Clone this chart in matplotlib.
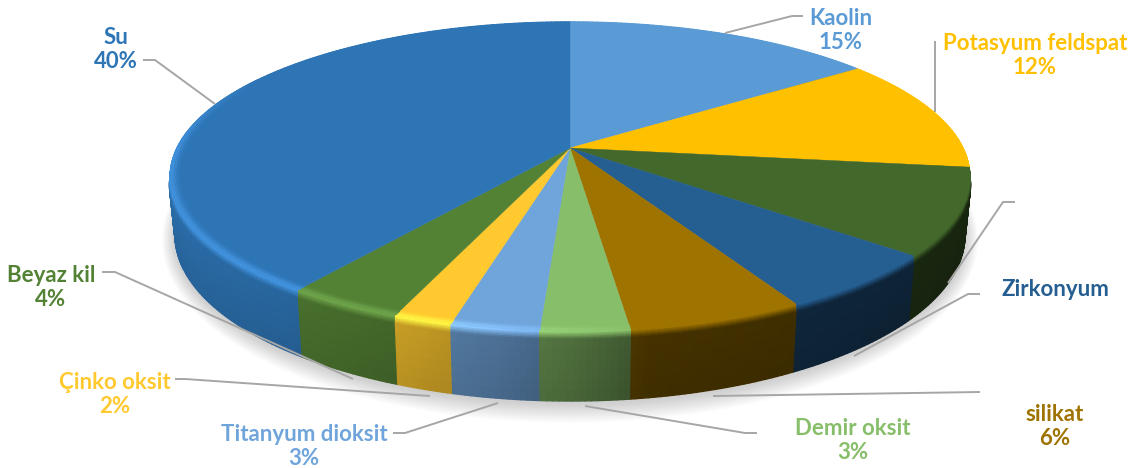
import numpy as np
import matplotlib
matplotlib.use("Agg")
import matplotlib.pyplot as plt
from matplotlib.collections import PolyCollection
from matplotlib.colors import to_rgb

# Slice shares, clockwise from twelve o'clock
names = ["Kaolin", "Potasyum feldspat", "", "Zirkonyum", "silikat",
         "Demir oksit", "Titanyum dioksit", "Çinko oksit", "Beyaz kil", "Su"]
shares = [15, 12, 9, 6, 6, 3, 3, 2, 4, 40]
colors = ["#5B9BD5", "#FFC000", "#43682B", "#255E91", "#9E7300",
          "#87BE69", "#70A5DB", "#FFC92F", "#548235", "#2E75B6"]

# Label text lines with their centres in pixels
labels = [
    ("Kaolin", "15%", 841, 18.5, 0),
    ("Potasyum feldspat", "12%", 1035, 43.5, 1),
    ("Zirkonyum", "", 1055, 289.5, 3),
    ("silikat", "6%", 1055, 414.5, 4),
    ("Demir oksit", "3%", 853, 428.5, 5),
    ("Titanyum dioksit", "3%", 304, 434.5, 6),
    ("Çinko oksit", "2%", 115, 382.5, 7),
    ("Beyaz kil", "4%", 51, 275.5, 8),
    ("Su", "40%", 116, 37.5, 9),
]

# Leader lines from the pie rim to each label
leaders = [
    [(725, 33), (792, 16), (803, 16)],
    [(935, 112), (935, 41)],
    [(948, 283), (1003, 202), (1015, 202)],
    [(854, 356), (968, 294), (980, 294)],
    [(713, 396), (980, 392)],
    [(585, 406), (745, 433), (757, 433)],
    [(498, 403), (405, 433), (393, 433)],
    [(430, 396), (185, 379), (175, 379)],
    [(353, 379), (115, 272), (102, 272)],
    [(215, 104), (155, 60), (143, 60)],
]

CX = 570.0
TILT = 0.182


def project(theta, radius, y0, a, b):
    """Perspective view of a disc; theta runs clockwise from the back."""
    u = radius * np.sin(theta)
    v = radius * np.cos(theta)
    w = 1 + TILT * v
    return CX + a * u / w, y0 - b * v / w


def top_face(theta, radius=1.0):
    return project(theta, radius, 148.0, 393.0, 149.0)


def rim_edge(theta):
    x, y = project(theta, 1.002, 148.0, 393.0, 149.0)
    return x, y + 9.0


def base_edge(theta):
    return project(theta, 1.0, 204.8, 388.4, 160.5)


def side_shade(x):
    return np.interp(x, [170, 300, 400, 500, 570, 650, 800, 970],
                     [0.92, 0.86, 0.78, 0.68, 0.58, 0.43, 0.40, 0.36])


def glow(x, theta):
    v = np.cos(theta)
    horizontal = np.interp(x, [170, 450, 570, 650], [1.0, 1.0, 0.35, 0.0])
    return horizontal * np.clip((0.5 - v) / 0.5, 0, 1)


fig = plt.figure(figsize=(11.37, 4.68), dpi=100)
ax = fig.add_axes([0, 0, 1, 1])
ax.set_xlim(0, 1137)
ax.set_ylim(468, 0)
ax.axis("off")

# Soft shadow below the disc, built from stacked translucent outlines
ring = np.linspace(0, 2 * np.pi, 361)
for grow in np.linspace(16, 0, 17):
    sx, sy = project(ring, 1.0, 207.0, 388.4 + grow * 0.8, 160.5 + grow)
    ax.fill(sx, sy, color="#808080", alpha=0.022, lw=0, zorder=1)

# Walk round the slices collecting small quads for the walls and bevel
quads, quad_colors, quad_depth = [], [], []
edges = np.cumsum([0] + shares) / sum(shares) * 2 * np.pi
BEVEL = 6
WALL = 6
for i, base in enumerate(colors):
    rgb = np.array(to_rgb(base))
    n = max(2, int(np.ceil((edges[i + 1] - edges[i]) / np.radians(0.8))))
    th = np.linspace(edges[i], edges[i + 1], n + 1)
    for a, b in zip(th[:-1], th[1:]):
        mid = (a + b) / 2
        tx, _ = top_face(np.array(mid))
        g = float(glow(tx, mid))
        wall_rgb = rgb * float(side_shade(tx))
        bright = np.clip(rgb * (1 + 0.16 * g) + 0.05 * g, 0, 1)
        depth = np.cos(mid)

        # Bevel: from the face colour through the highlight into the wall
        for k in range(BEVEL):
            t0, t1 = k / BEVEL, (k + 1) / BEVEL
            xa0, ya0 = top_face(a)
            xb0, yb0 = top_face(b)
            xa1, ya1 = rim_edge(a)
            xb1, yb1 = rim_edge(b)
            poly = [(xa0 + (xa1 - xa0) * t0, ya0 + (ya1 - ya0) * t0),
                    (xb0 + (xb1 - xb0) * t0, yb0 + (yb1 - yb0) * t0),
                    (xb0 + (xb1 - xb0) * t1, yb0 + (yb1 - yb0) * t1),
                    (xa0 + (xa1 - xa0) * t1, ya0 + (ya1 - ya0) * t1)]
            tm = (t0 + t1) / 2
            blend = np.clip((tm - 0.25) / 0.75, 0, 1)
            quads.append(poly)
            quad_colors.append(bright * (1 - blend) + wall_rgb * blend)
            quad_depth.append(depth)

        # Wall: from the bevel down to the lower edge
        for k in range(WALL):
            t0, t1 = k / WALL, (k + 1) / WALL
            xa0, ya0 = rim_edge(a)
            xb0, yb0 = rim_edge(b)
            xa1, ya1 = base_edge(a)
            xb1, yb1 = base_edge(b)
            poly = [(xa0 + (xa1 - xa0) * t0, ya0 + (ya1 - ya0) * t0),
                    (xb0 + (xb1 - xb0) * t0, yb0 + (yb1 - yb0) * t0),
                    (xb0 + (xb1 - xb0) * t1, yb0 + (yb1 - yb0) * t1),
                    (xa0 + (xa1 - xa0) * t1, ya0 + (ya1 - ya0) * t1)]
            quads.append(poly)
            quad_colors.append(wall_rgb * (1 - 0.08 * (t0 + t1) / 2))
            quad_depth.append(depth)

order = np.argsort(-np.array(quad_depth), kind="stable")
walls = PolyCollection([quads[j] for j in order],
                       facecolors=[quad_colors[j] for j in order],
                       edgecolors="face", linewidths=1.0, zorder=2)
ax.add_collection(walls)

# Flat top of each slice, then a narrow lit ring just inside the outer edge
for i, base in enumerate(colors):
    n = max(2, int(np.ceil((edges[i + 1] - edges[i]) / np.radians(0.5))))
    th = np.linspace(edges[i], edges[i + 1], n + 1)
    x, y = top_face(th)
    ax.fill(np.r_[CX, x], np.r_[148.0, y], color=base, lw=0.3, zorder=3)

    rgb = np.array(to_rgb(base))
    ring_quads, ring_cols = [], []
    radii = np.linspace(0.98, 1.0, 4)
    for a, b in zip(th[:-1], th[1:]):
        mid = (a + b) / 2
        tx, _ = top_face(np.array(mid))
        g = float(glow(tx, mid))
        if g <= 0:
            continue
        bright = np.clip(rgb * (1 + 0.16 * g) + 0.05 * g, 0, 1)
        for k in range(len(radii) - 1):
            xa0, ya0 = top_face(a, radii[k])
            xb0, yb0 = top_face(b, radii[k])
            xa1, ya1 = top_face(a, radii[k + 1])
            xb1, yb1 = top_face(b, radii[k + 1])
            s = (k + 0.5) / (len(radii) - 1)
            ring_quads.append([(xa0, ya0), (xb0, yb0), (xb1, yb1), (xa1, ya1)])
            ring_cols.append(rgb * (1 - s) + bright * s)
    if ring_quads:
        ax.add_collection(PolyCollection(ring_quads, facecolors=ring_cols,
                                         edgecolors="face", linewidths=0.8,
                                         zorder=4))

# Leader lines
for path in leaders:
    px, py = zip(*path)
    ax.plot(px, py, color="#A6A6A6", lw=1.4, solid_joinstyle="round",
            solid_capstyle="butt", zorder=5)

# Category and percentage labels
FONT = dict(family="Lato", fontsize=16, fontweight="bold", ha="center",
            va="center", zorder=6)
for name, pct, x, y, idx in labels:
    ax.text(x, y, name, color=colors[idx], **FONT)
    if pct:
        ax.text(x, y + 24, pct, color=colors[idx], **FONT)

fig.savefig("out.png", dpi=100, facecolor="white")
